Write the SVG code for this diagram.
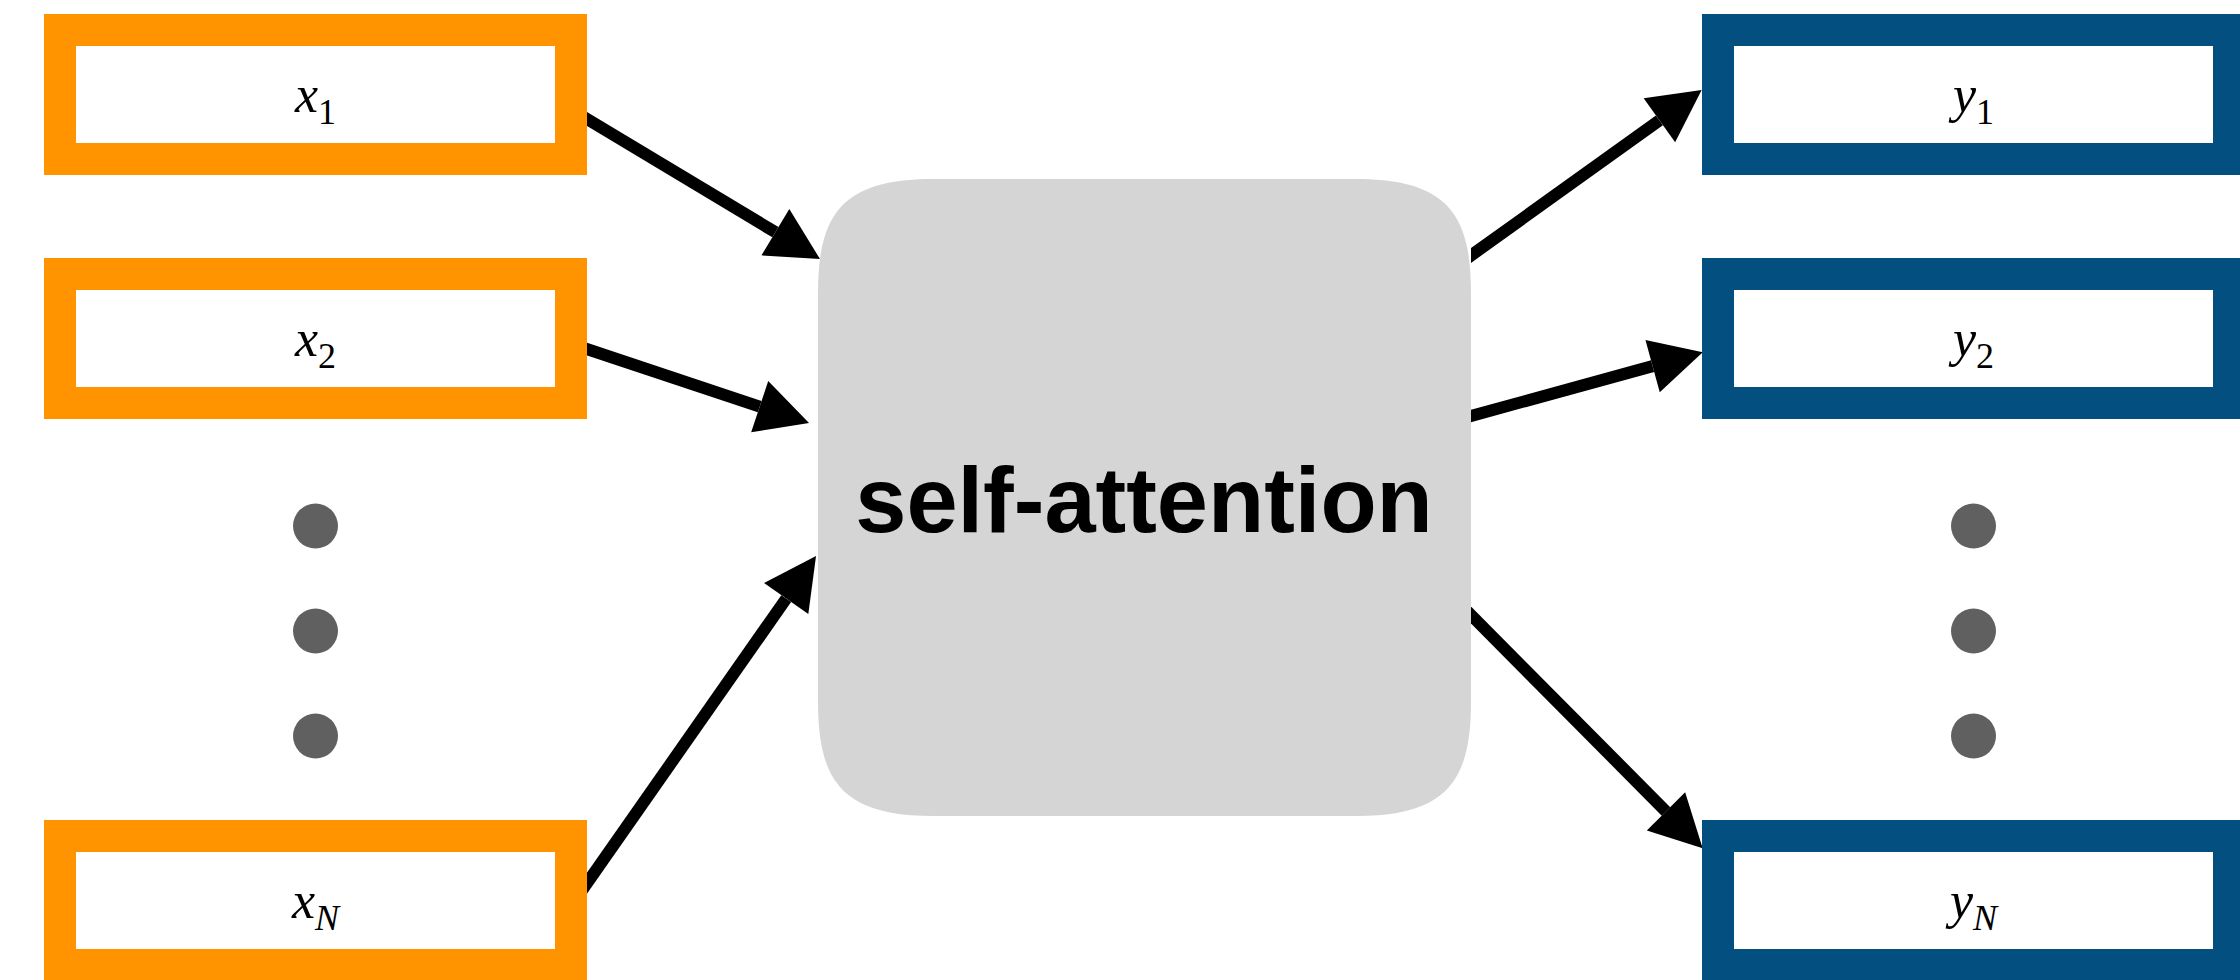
<svg xmlns="http://www.w3.org/2000/svg" width="2240" height="980" viewBox="0 0 2240 980">
  <style>
    .in { fill: #ffffff; stroke: #FF9400; stroke-width: 32; }
    .out { fill: #ffffff; stroke: #034F7F; stroke-width: 32; }
    .core { fill: #D5D5D5; }
    .dot { fill: #606060; }
    .conn { fill: none; stroke: #000000; stroke-width: 12; marker-end: url(#head); }
    .lbl { font-family: "Liberation Serif", "Times New Roman", serif; font-style: italic; font-size: 52px; fill: #000000; }
    .sub { font-size: 36px; }
    .num { font-style: normal; }
    .title { font-family: "Liberation Sans", Arial, Helvetica, sans-serif; font-weight: bold; font-size: 92px; fill: #000000; }
  </style>
  <defs>
    <marker id="head" markerUnits="userSpaceOnUse" viewBox="0 0 52 54" refX="0" refY="27" markerWidth="52" markerHeight="54" orient="auto" overflow="visible">
      <path d="M0,0 L52,27 L0,54 Z" fill="#000000"/>
    </marker>
    <clipPath id="clipRight">
      <rect x="1471" y="0" width="769" height="980"/>
    </clipPath>
  </defs>
  <rect x="0" y="0" width="2240" height="980" fill="#ffffff"/>

  <g id="self-attention">
    <path class="core" d="M818,294 C818,216 840,179 933,179 L1356,179 C1449,179 1471,216 1471,294 L1471,701 C1471,779 1449,816 1356,816 L933,816 C840,816 818,779 818,701 Z"/>
    <text class="title" x="1144" y="532" text-anchor="middle">self-attention</text>
  </g>

  <g id="connectors">
    <path class="conn" d="M571,109.4 L775.4,232.2"/>
    <path class="conn" d="M571,343.7 L759.7,406.6"/>
    <path class="conn" d="M571,906 L786.2,598.6"/>
    <path class="conn" clip-path="url(#clipRight)" d="M1460,263.4 L1659.4,120.3"/>
    <path class="conn" clip-path="url(#clipRight)" d="M1460,419 L1652.6,366.1"/>
    <path class="conn" clip-path="url(#clipRight)" d="M1460,604 L1666,811.4"/>
  </g>

  <g id="x1">
    <rect class="in" x="60" y="30" width="511" height="129"/>
    <text class="lbl" x="315.5" y="112" text-anchor="middle">x<tspan class="sub num" dy="12">1</tspan></text>
  </g>
  <g id="x2">
    <rect class="in" x="60" y="274" width="511" height="129"/>
    <text class="lbl" x="315.5" y="356" text-anchor="middle">x<tspan class="sub num" dy="12">2</tspan></text>
  </g>
  <g id="xN">
    <rect class="in" x="60" y="836" width="511" height="129"/>
    <text class="lbl" x="315.5" y="918" text-anchor="middle">x<tspan class="sub" dy="12">N</tspan></text>
  </g>

  <g id="y1">
    <rect class="out" x="1718" y="30" width="511" height="129"/>
    <text class="lbl" x="1973.5" y="112" text-anchor="middle">y<tspan class="sub num" dy="12">1</tspan></text>
  </g>
  <g id="y2">
    <rect class="out" x="1718" y="274" width="511" height="129"/>
    <text class="lbl" x="1973.5" y="356" text-anchor="middle">y<tspan class="sub num" dy="12">2</tspan></text>
  </g>
  <g id="yN">
    <rect class="out" x="1718" y="836" width="511" height="129"/>
    <text class="lbl" x="1973.5" y="918" text-anchor="middle">y<tspan class="sub" dy="12">N</tspan></text>
  </g>

  <g id="dots-left">
    <circle class="dot" cx="315.5" cy="526" r="22.5"/>
    <circle class="dot" cx="315.5" cy="631" r="22.5"/>
    <circle class="dot" cx="315.5" cy="736" r="22.5"/>
  </g>
  <g id="dots-right">
    <circle class="dot" cx="1973.5" cy="526" r="22.5"/>
    <circle class="dot" cx="1973.5" cy="631" r="22.5"/>
    <circle class="dot" cx="1973.5" cy="736" r="22.5"/>
  </g>
</svg>
